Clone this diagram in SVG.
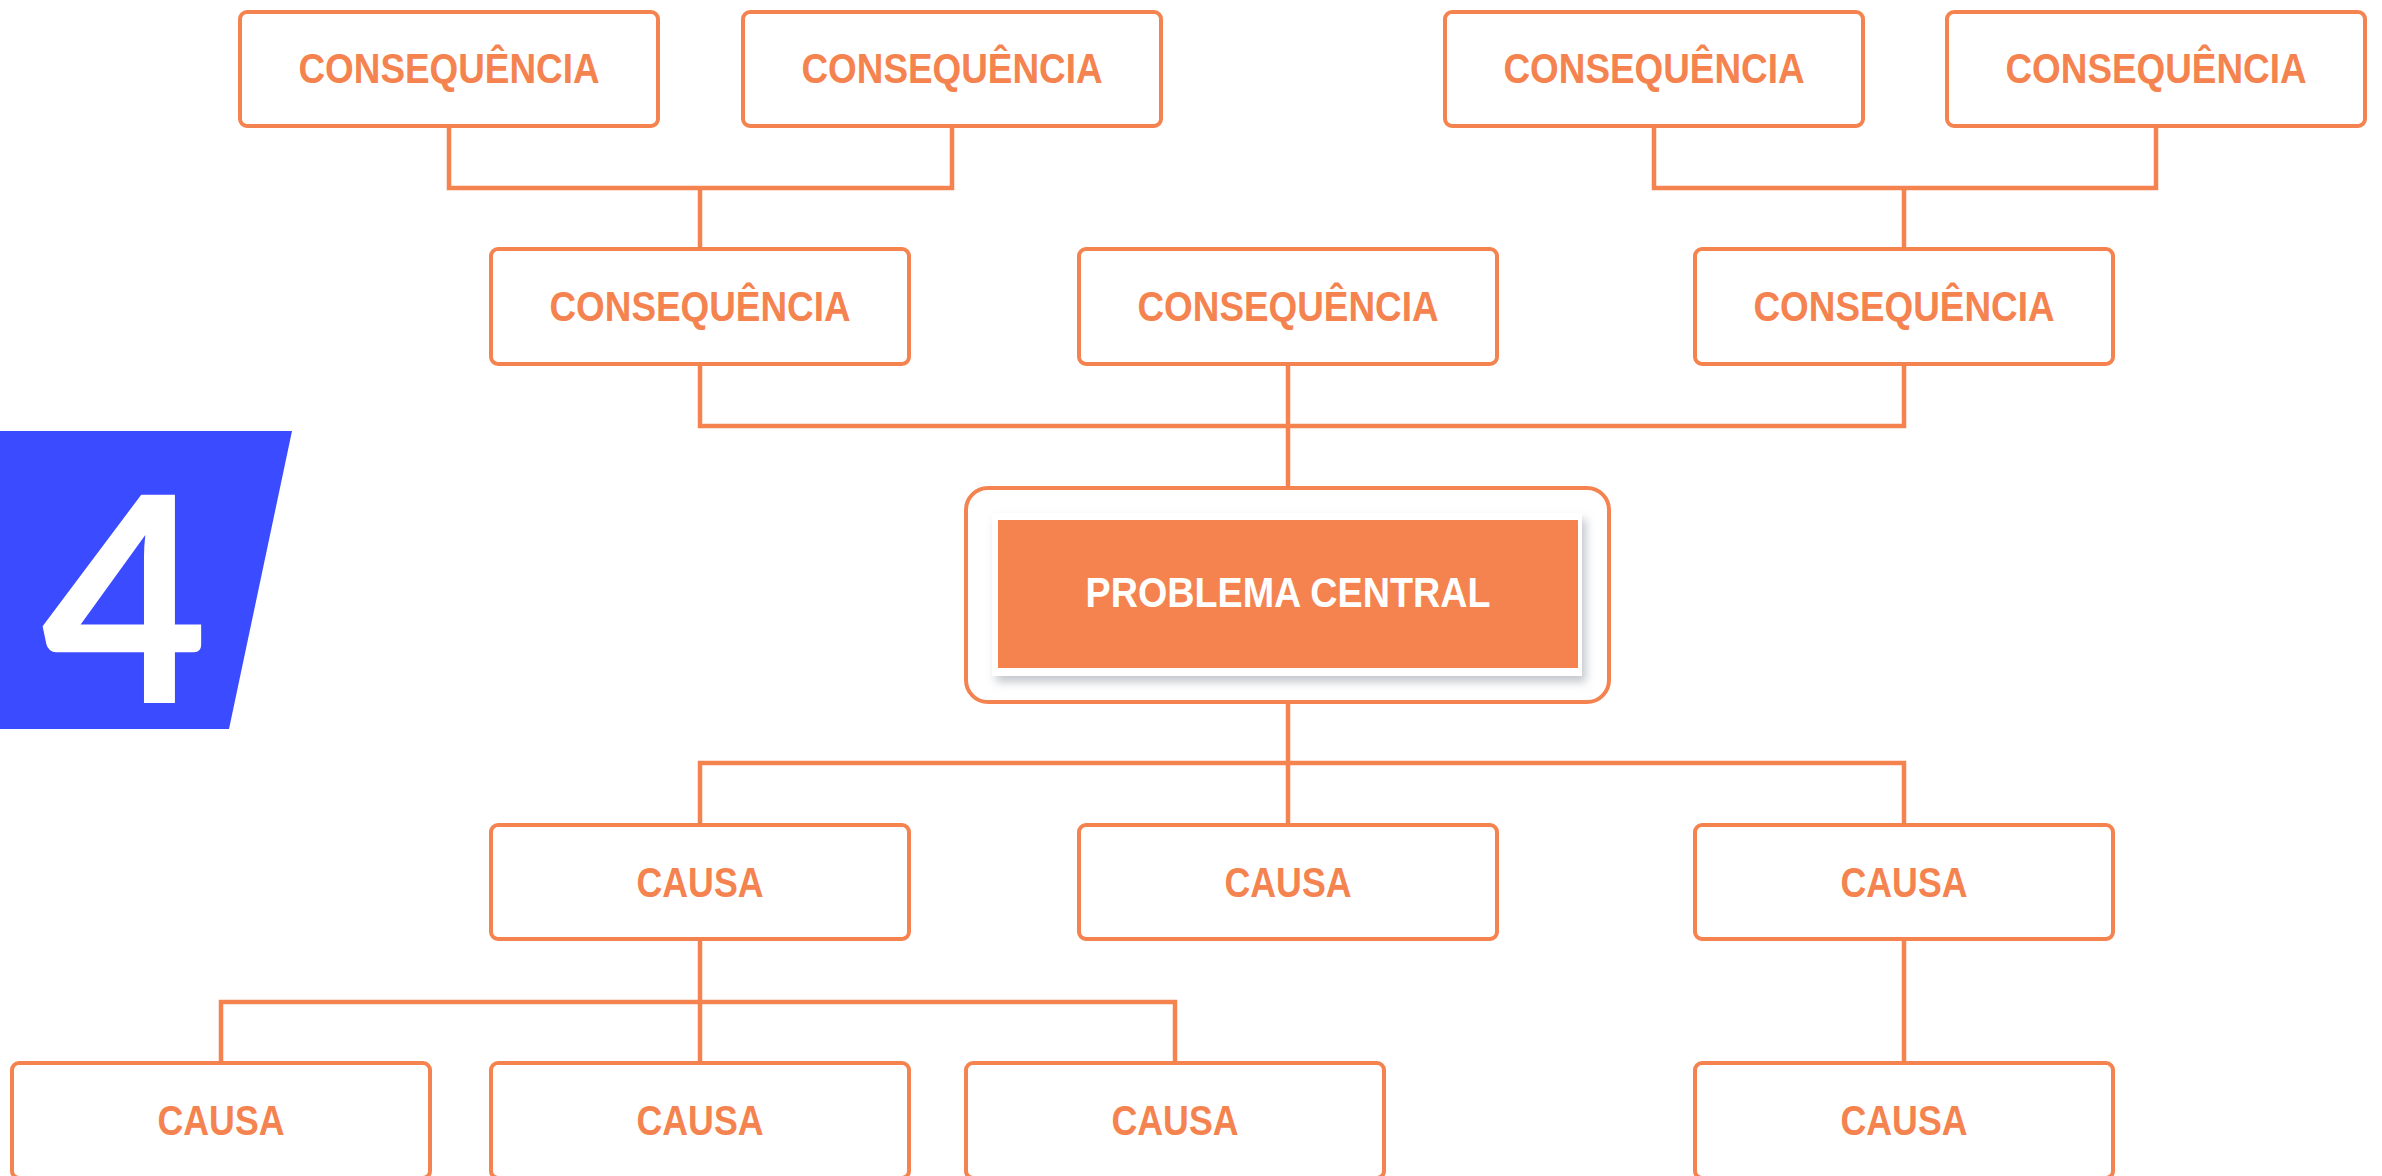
<svg xmlns="http://www.w3.org/2000/svg" width="2382" height="1176" viewBox="0 0 2382 1176">
<defs>
<style>
.box{fill:#fff;stroke:#F5834F;stroke-width:4}
.lbl{font-family:"Liberation Sans",Arial,sans-serif;font-weight:bold;font-size:43px;fill:#F5834F;text-anchor:middle}
.con{fill:none;stroke:#F5834F;stroke-width:4.5}
</style>
<filter id="sh" x="-10%" y="-20%" width="130%" height="150%">
<feDropShadow dx="4" dy="6" stdDeviation="5" flood-color="#9aa0a8" flood-opacity="0.6"/>
</filter>
</defs>
<rect width="2382" height="1176" fill="#fff"/>
<g id="badge">
<polygon points="0,431 292,431 229,729 0,729" fill="#3B4BFF"/>
<text x="125" y="703" font-family="Lato,'Open Sans',sans-serif" font-weight="bold" font-size="288" fill="#fff" text-anchor="middle">4</text>
</g>
<g id="connectors">
<path class="con" d="M449,126V188H952V126M700,188V249"/>
<path class="con" d="M1654,126V188H2156V126M1904,188V249"/>
<path class="con" d="M700,364V426H1904V364M1288,364V488"/>
<path class="con" d="M1288,702V825M700,825V763H1904V825"/>
<path class="con" d="M700,939V1063M221,1063V1002H1175V1063"/>
<path class="con" d="M1904,939V1063"/>
</g>
<g id="c1"><rect class="box" x="240" y="12" width="418" height="114" rx="7"/><text class="lbl" x="449" y="83" textLength="301" lengthAdjust="spacingAndGlyphs">CONSEQUÊNCIA</text></g>
<g id="c2"><rect class="box" x="743" y="12" width="418" height="114" rx="7"/><text class="lbl" x="952" y="83" textLength="301" lengthAdjust="spacingAndGlyphs">CONSEQUÊNCIA</text></g>
<g id="c3"><rect class="box" x="1445" y="12" width="418" height="114" rx="7"/><text class="lbl" x="1654" y="83" textLength="301" lengthAdjust="spacingAndGlyphs">CONSEQUÊNCIA</text></g>
<g id="c4"><rect class="box" x="1947" y="12" width="418" height="114" rx="7"/><text class="lbl" x="2156" y="83" textLength="301" lengthAdjust="spacingAndGlyphs">CONSEQUÊNCIA</text></g>
<g id="c5"><rect class="box" x="491" y="249" width="418" height="115" rx="7"/><text class="lbl" x="700" y="321" textLength="301" lengthAdjust="spacingAndGlyphs">CONSEQUÊNCIA</text></g>
<g id="c6"><rect class="box" x="1079" y="249" width="418" height="115" rx="7"/><text class="lbl" x="1288" y="321" textLength="301" lengthAdjust="spacingAndGlyphs">CONSEQUÊNCIA</text></g>
<g id="c7"><rect class="box" x="1695" y="249" width="418" height="115" rx="7"/><text class="lbl" x="1904" y="321" textLength="301" lengthAdjust="spacingAndGlyphs">CONSEQUÊNCIA</text></g>
<g id="central">
<rect class="box" x="966" y="488" width="643" height="214" rx="22"/>
<rect x="992" y="513" width="590" height="163" fill="#fff" filter="url(#sh)"/>
<rect x="998" y="520" width="580" height="148" fill="#F5834F"/>
<text class="lbl" x="1288" y="607" fill="#fff" style="fill:#fff" textLength="405" lengthAdjust="spacingAndGlyphs">PROBLEMA CENTRAL</text>
</g>
<g id="k1"><rect class="box" x="491" y="825" width="418" height="114" rx="7"/><text class="lbl" x="700" y="897" textLength="127" lengthAdjust="spacingAndGlyphs">CAUSA</text></g>
<g id="k2"><rect class="box" x="1079" y="825" width="418" height="114" rx="7"/><text class="lbl" x="1288" y="897" textLength="127" lengthAdjust="spacingAndGlyphs">CAUSA</text></g>
<g id="k3"><rect class="box" x="1695" y="825" width="418" height="114" rx="7"/><text class="lbl" x="1904" y="897" textLength="127" lengthAdjust="spacingAndGlyphs">CAUSA</text></g>
<g id="k4"><rect class="box" x="12" y="1063" width="418" height="115" rx="7"/><text class="lbl" x="221" y="1135" textLength="127" lengthAdjust="spacingAndGlyphs">CAUSA</text></g>
<g id="k5"><rect class="box" x="491" y="1063" width="418" height="115" rx="7"/><text class="lbl" x="700" y="1135" textLength="127" lengthAdjust="spacingAndGlyphs">CAUSA</text></g>
<g id="k6"><rect class="box" x="966" y="1063" width="418" height="115" rx="7"/><text class="lbl" x="1175" y="1135" textLength="127" lengthAdjust="spacingAndGlyphs">CAUSA</text></g>
<g id="k7"><rect class="box" x="1695" y="1063" width="418" height="115" rx="7"/><text class="lbl" x="1904" y="1135" textLength="127" lengthAdjust="spacingAndGlyphs">CAUSA</text></g>
</svg>
